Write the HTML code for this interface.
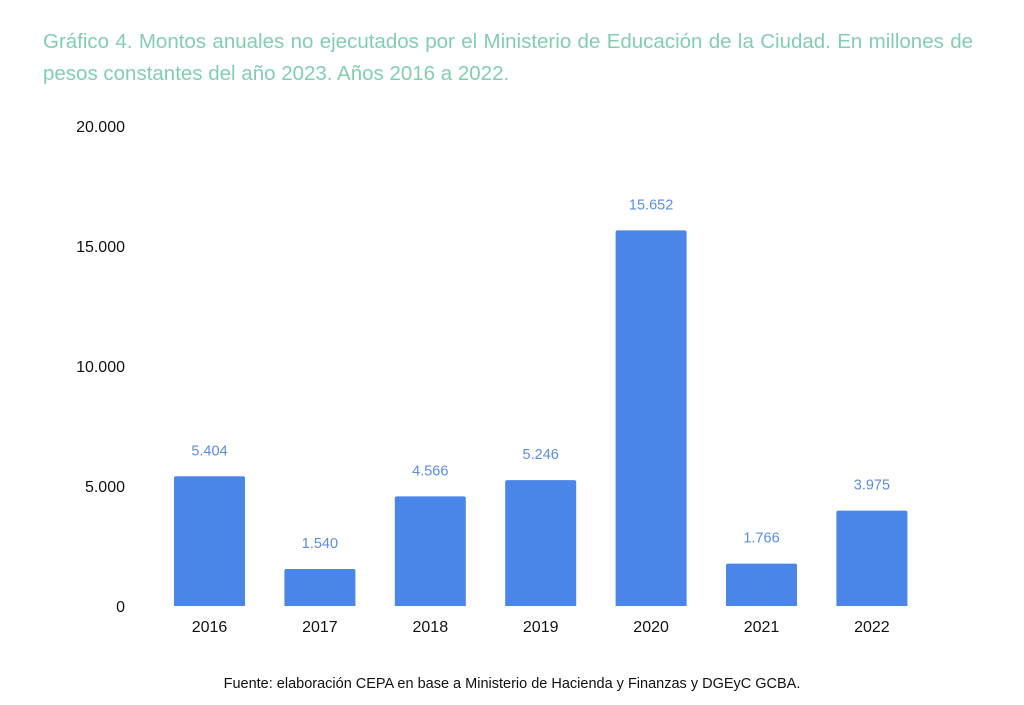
<!DOCTYPE html>
<html><head><meta charset="utf-8"><style>
body{margin:0;background:#fff;width:1024px;height:705px;overflow:hidden;font-family:"Liberation Sans",sans-serif}
#title{position:absolute;left:43px;top:26px;width:930px;font-size:20.5px;line-height:32px;color:#82cfb0;text-align:justify;text-align-last:left}
#src{position:absolute;left:0;width:1024px;top:676px;text-align:center;font-size:14.5px;color:#111}
svg{position:absolute;left:0;top:0}
</style></head><body>
<div id="title">Gráfico 4. Montos anuales no ejecutados por el Ministerio de Educación de la Ciudad. En millones de pesos constantes del año 2023. Años 2016 a 2022.</div>
<svg id="chart" width="1024" height="705"></svg>
<div id="src">Fuente: elaboración CEPA en base a Ministerio de Hacienda y Finanzas y DGEyC GCBA.</div>
<script>
const categories=["2016","2017","2018","2019","2020","2021","2022"];
const values=[5404,1540,4566,5246,15652,1766,3975];
const valueLabels=["5.404","1.540","4.566","5.246","15.652","1.766","3.975"];
const ticks=[0,5000,10000,15000,20000];
const tickLabels=["0","5.000","10.000","15.000","20.000"];
const svg=document.getElementById('chart');
const NS="http://www.w3.org/2000/svg";
const y0=606,yMax=20000,pxH=480;
function y(v){return y0-v/yMax*pxH;}
function x(i){return 174+i*110.4;}
const bw=71;
function mk(t,a,txt){const e=document.createElementNS(NS,t);for(const k in a)e.setAttribute(k,a[k]);if(txt!==undefined)e.textContent=txt;svg.appendChild(e);return e;}
ticks.forEach((t,i)=>{
const e=mk('text',{x:125,y:y(t)+6,'text-anchor':'end','font-size':16,fill:'#111'},tickLabels[i]);


});
categories.forEach((c,i)=>{
const top=y(values[i]);
const r=mk('path',{d:`M${x(i)},${y0}V${top+2}Q${x(i)},${top} ${x(i)+2},${top}H${x(i)+bw-2}Q${x(i)+bw},${top} ${x(i)+bw},${top+2}V${y0}Z`,fill:'#4a86e8'});


const v=mk('text',{x:x(i)+bw/2,y:top-21,'text-anchor':'middle','font-size':14.5,fill:'#5b8ee0'},valueLabels[i]);


const l=mk('text',{x:x(i)+bw/2,y:632,'text-anchor':'middle','font-size':16,fill:'#111'},c);


});
</script>
</body></html>
